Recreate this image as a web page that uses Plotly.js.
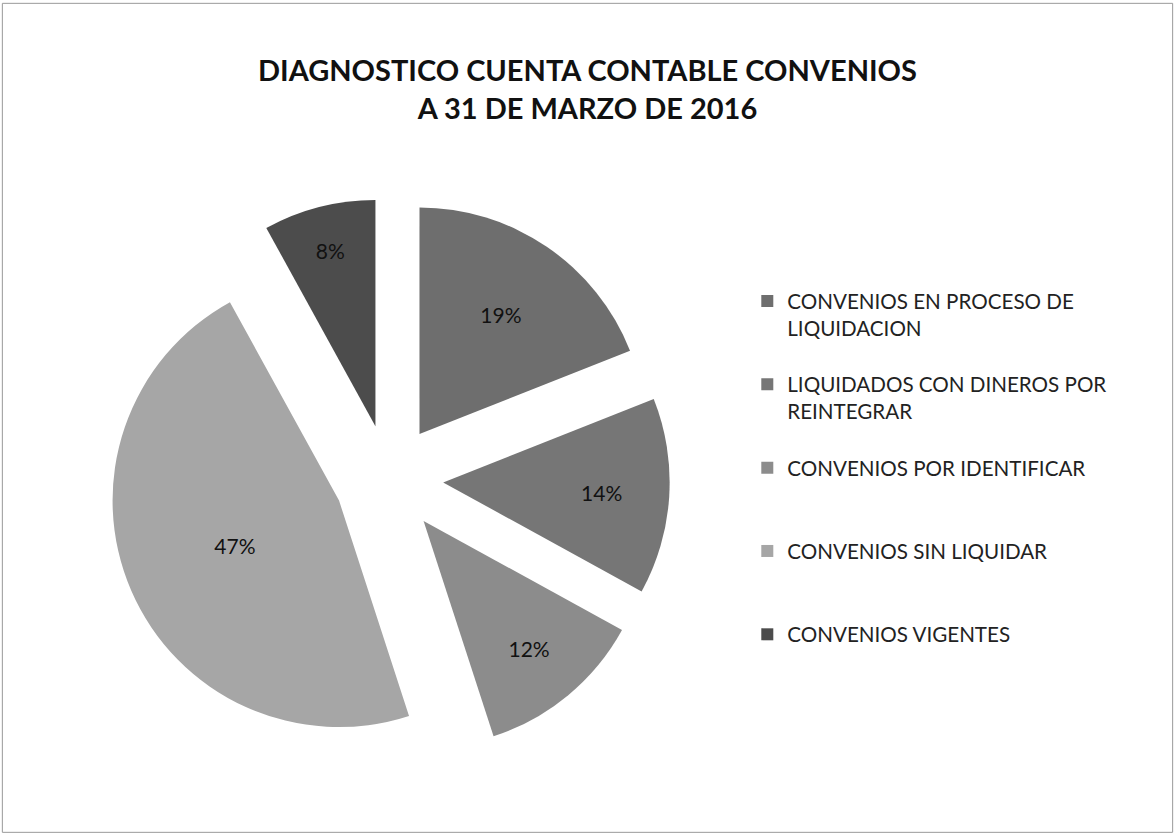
<!DOCTYPE html>
<html>
<head>
<meta charset="utf-8">
<script src="https://cdn.plot.ly/plotly-3.0.1.min.js"></script>
<style>
  html, body { margin: 0; padding: 0; background: #fff; }
  #chart { width: 1175px; height: 834px; }
</style>
</head>
<body>
<div id="chart"></div>
<script>
var categorias = [
  'CONVENIOS EN PROCESO DE<br>LIQUIDACION',
  'LIQUIDADOS CON DINEROS POR<br>REINTEGRAR',
  'CONVENIOS POR IDENTIFICAR',
  'CONVENIOS SIN LIQUIDAR',
  'CONVENIOS VIGENTES'
];
var porcentajes = [19, 14, 12, 47, 8];
var colores = ['#6e6e6e', '#767676', '#8c8c8c', '#a6a6a6', '#4c4c4c'];

// every legend entry takes the same height, like the original legend
var etiquetasLeyenda = categorias.map(function (c) {
  var lineas = c.split('<br>').length;
  var s = c;
  for (var i = lineas; i < 3; i++) s += '<br> ';
  return s;
});

var trace1 = {
  type: 'pie',
  labels: etiquetasLeyenda,
  values: porcentajes,
  sort: false,
  direction: 'clockwise',
  rotation: 0,
  pull: [0.24, 0.24, 0.24, 0.24, 0.24],
  marker: { colors: colores, line: { width: 0 } },
  textinfo: 'percent',
  textposition: 'inside',
  insidetextorientation: 'horizontal',
  textfont: { family: 'Lato, sans-serif', size: 21, color: '#111' },
  domain: { x: [0.092, 0.570], y: [0.0887, 0.7626] },
  hoverinfo: 'percent'
};

var layout = {
  width: 1175,
  height: 834,
  margin: { l: 0, r: 0, t: 0, b: 0 },
  paper_bgcolor: '#fff',
  title: {
    text: '<b>DIAGNOSTICO CUENTA CONTABLE CONVENIOS<br>A 31 DE MARZO DE 2016</b>',
    font: { family: 'Lato, sans-serif', size: 29, color: '#111' },
    x: 0.5, xanchor: 'center',
    y: 0.903, yanchor: 'middle'
  },
  showlegend: true,
  legend: {
    x: 0.636, xanchor: 'left',
    y: 0.663, yanchor: 'top',
    valign: 'top',
    font: { family: 'Lato, sans-serif', size: 20.6, color: '#222' }
  },
  shapes: [{
    type: 'rect', xref: 'paper', yref: 'paper',
    x0: 0.002, x1: 0.998, y0: 0.002, y1: 0.996,
    line: { color: '#999', width: 1 }
  }]
};

Plotly.newPlot('chart', [trace1], layout, { displayModeBar: false });
</script>
</body>
</html>
